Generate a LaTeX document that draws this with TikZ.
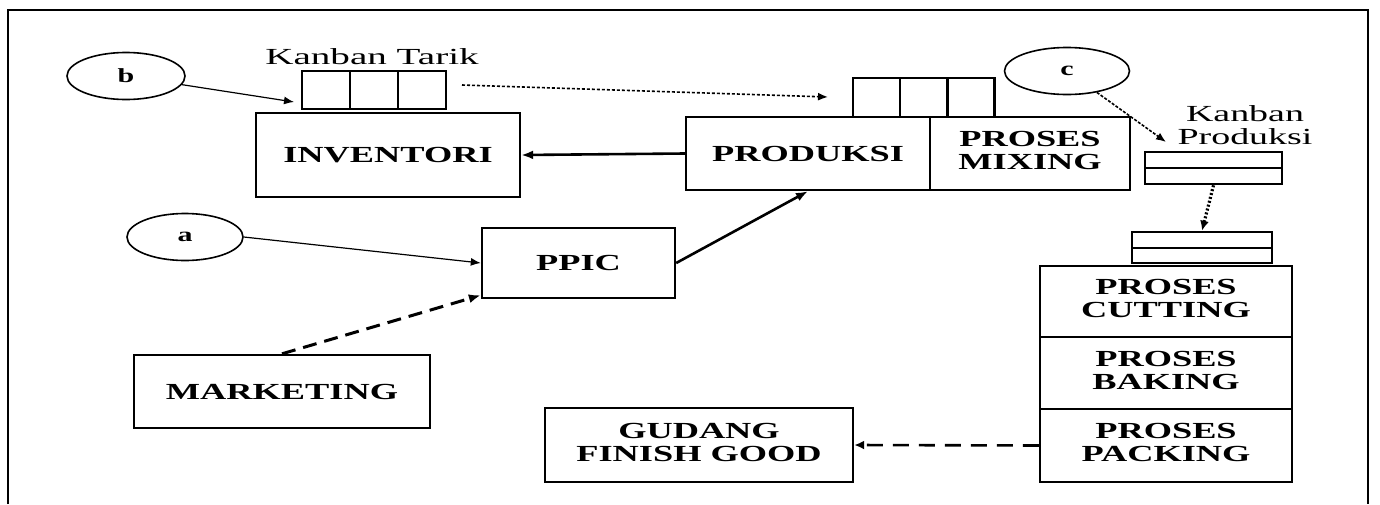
\documentclass[tikz,border=0pt]{standalone}
\usepackage{fontspec}
\usepackage{graphicx}
\setmainfont{Liberation Serif}
\usetikzlibrary{arrows.meta,shapes.geometric,calc}
\newcommand{\wtxt}[1]{\scalebox{1.58}[1]{#1}}
\newcommand{\wtwo}[2]{\scalebox{1.58}[1]{\begin{tabular}{@{}c@{}}#1\\#2\end{tabular}}}
\tikzset{
  box/.style={draw, line width=1.2pt, inner sep=0pt, font=\fontsize{11.5}{11.5}\selectfont\bfseries},
  card/.style={draw, line width=1.3pt, inner sep=0pt},
  oval/.style={draw, ellipse, line width=0.8pt, inner sep=0pt, font=\fontsize{10}{10}\selectfont\bfseries},
  lbl/.style={inner sep=0pt, font=\fontsize{11.5}{11.5}\selectfont, align=center},
  thinarr/.style={line width=0.6pt, -{Latex[length=5pt,width=4pt]}},
  thickarr/.style={line width=1.3pt, -{Latex[length=6pt,width=4.5pt]}},
}
\begin{document}
\begin{tikzpicture}[x=0.5pt,y=-0.5pt]
\useasboundingbox (0,0) rectangle (1380,504);
% frame
\draw[line width=1pt] (8,504) -- (8,10) -- (1368,10) -- (1368,504);

% main boxes
\node[box, minimum width=132pt, minimum height=42pt] (inv) at (388,155) {\wtxt{INVENTORI}};
\node[box, minimum width=122pt, minimum height=36.5pt] (prod) at (808,153.5) {\wtxt{PRODUKSI}};
\node[box, minimum width=100pt, minimum height=36.5pt] (mix) at (1030,153.5) {\wtwo{PROSES}{MIXING}};
\node[box, minimum width=96.5pt, minimum height=35pt] (ppic) at (578.5,263) {\wtxt{PPIC}};
\node[box, minimum width=148pt, minimum height=36.5pt] (mkt) at (282,391.5) {\wtxt{MARKETING}};
\node[box, minimum width=154pt, minimum height=37pt] (gud) at (699,445) {\wtwo{GUDANG}{FINISH GOOD}};
\node[box, minimum width=126pt, minimum height=35.5pt] (cut) at (1166,301.5) {\wtwo{PROSES}{CUTTING}};
\node[box, minimum width=126pt, minimum height=36pt] (bak) at (1166,373) {\wtwo{PROSES}{BAKING}};
\node[box, minimum width=126pt, minimum height=36.5pt] (pack) at (1166,445.5) {\wtwo{PROSES}{PACKING}};

% kanban cards above INVENTORI
\node[card, minimum width=24pt, minimum height=19pt] (ka1) at (326,90) {};
\node[card, minimum width=24pt, minimum height=19pt] (ka2) at (374,90) {};
\node[card, minimum width=24pt, minimum height=19pt] (ka3) at (422,90) {};
% kanban cards above PRODUKSI
\node[card, minimum width=23.5pt, minimum height=19.5pt] (kb1) at (876.5,97.5) {};
\node[card, minimum width=23.5pt, minimum height=19.5pt] (kb2) at (923.5,97.5) {};
\node[card, minimum width=23.5pt, minimum height=19.5pt] (kb3) at (971,97.5) {};
% kanban produksi card
\node[card, minimum width=68.5pt, minimum height=8pt] (pk1) at (1213.5,160) {};
\node[card, minimum width=68.5pt, minimum height=8pt] (pk2) at (1213.5,176) {};
% card above stack
\node[card, minimum width=70pt, minimum height=8pt] (sk1) at (1202,240) {};
\node[card, minimum width=70pt, minimum height=7.5pt] (sk2) at (1202,255.5) {};

% labels
\node[lbl] (kt) at (372,57) {\scalebox{1.7}[1]{Kanban Tarik}};
\node[lbl] (kp) at (1245,128) {\scalebox{1.65}[1]{\begin{tabular}{@{}c@{}}Kanban\\Produksi\end{tabular}}};

% ellipses
\node[oval, minimum width=59pt, minimum height=23.5pt] (b) at (126,76) {\scalebox{1.5}[1]{b}};
\node[oval, minimum width=58pt, minimum height=23.5pt] (a) at (185,237) {\scalebox{1.5}[1]{a}};
\node[oval, minimum width=62.5pt, minimum height=23.5pt] (c) at (1067,71) {\scalebox{1.5}[1]{c}};

% free ends
\coordinate (bt) at (294,102);
\coordinate (ds) at (462,85);
\coordinate (de) at (828,97);
\coordinate (ct) at (1166,142);

% connectors
\draw[thinarr] (b) -- (bt);
\draw[line width=0.8pt, dash pattern=on 1.5pt off 1pt, -{Latex[length=5pt,width=4pt]}] (ds) -- (de);
\draw[thickarr] (prod.west) -- (inv.east);
\draw[thinarr] (a.east) -- (ppic.west);
\draw[thickarr] (ppic.east) -- (prod.south);
\draw[line width=1.5pt, dash pattern=on 7pt off 4pt, -{Latex[length=6pt,width=4.5pt]}] (mkt.north) -- ($(ppic.south west)+(0,-4)$);
\draw[thinarr, line width=0.8pt, dash pattern=on 1.5pt off 0.8pt] (c) -- (ct);
\draw[line width=1.6pt, dash pattern=on 1pt off 1pt, -{Latex[length=5pt,width=4.5pt]}] (pk2.south) -- (sk1.north);
\draw[line width=1.3pt, dash pattern=on 8pt off 5pt, -{Latex[length=5pt,width=4.5pt]}] (pack.west) -- (gud.east);
\end{tikzpicture}
\end{document}
